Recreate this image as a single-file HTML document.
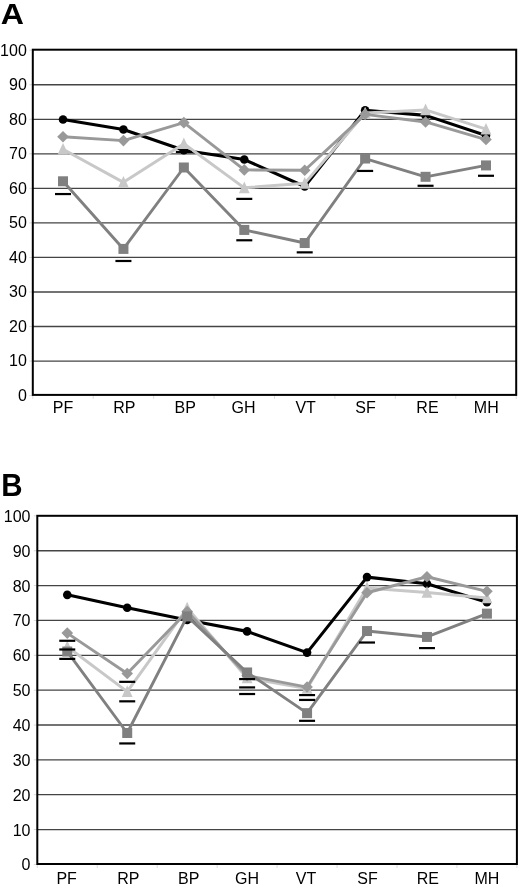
<!DOCTYPE html>
<html><head><meta charset="utf-8"><style>
html,body{margin:0;padding:0;background:#fff;}
body{width:520px;height:888px;overflow:hidden;}
svg{display:block;font-family:"Liberation Sans",sans-serif;filter:grayscale(1);}
</style></head><body>
<svg width="520" height="888" viewBox="0 0 520 888">
<rect width="520" height="888" fill="#fff"/>
<text transform="translate(0.8,23.9) scale(1.085,1)" font-size="29.6" font-weight="bold">A</text>
<line x1="32.8" x2="516.2" y1="361.06" y2="361.06" stroke="#444" stroke-width="1.3"/>
<line x1="32.8" x2="516.2" y1="326.52" y2="326.52" stroke="#444" stroke-width="1.3"/>
<line x1="32.8" x2="516.2" y1="291.98" y2="291.98" stroke="#444" stroke-width="1.3"/>
<line x1="32.8" x2="516.2" y1="257.44" y2="257.44" stroke="#444" stroke-width="1.3"/>
<line x1="32.8" x2="516.2" y1="222.90" y2="222.90" stroke="#444" stroke-width="1.3"/>
<line x1="32.8" x2="516.2" y1="188.36" y2="188.36" stroke="#444" stroke-width="1.3"/>
<line x1="32.8" x2="516.2" y1="153.82" y2="153.82" stroke="#444" stroke-width="1.3"/>
<line x1="32.8" x2="516.2" y1="119.28" y2="119.28" stroke="#444" stroke-width="1.3"/>
<line x1="32.8" x2="516.2" y1="84.74" y2="84.74" stroke="#444" stroke-width="1.3"/>
<text x="26.8" y="400.90" font-size="16" text-anchor="end">0</text>
<text x="26.8" y="366.36" font-size="16" text-anchor="end">10</text>
<text x="26.8" y="331.82" font-size="16" text-anchor="end">20</text>
<text x="26.8" y="297.28" font-size="16" text-anchor="end">30</text>
<text x="26.8" y="262.74" font-size="16" text-anchor="end">40</text>
<text x="26.8" y="228.20" font-size="16" text-anchor="end">50</text>
<text x="26.8" y="193.66" font-size="16" text-anchor="end">60</text>
<text x="26.8" y="159.12" font-size="16" text-anchor="end">70</text>
<text x="26.8" y="124.58" font-size="16" text-anchor="end">80</text>
<text x="26.8" y="90.04" font-size="16" text-anchor="end">90</text>
<text x="26.8" y="55.50" font-size="16" text-anchor="end">100</text>
<text x="63.01" y="413.10" font-size="16" text-anchor="middle">PF</text>
<text x="124.44" y="413.10" font-size="16" text-anchor="middle">RP</text>
<text x="185.16" y="413.10" font-size="16" text-anchor="middle">BP</text>
<text x="243.59" y="413.10" font-size="16" text-anchor="middle">GH</text>
<text x="305.61" y="413.10" font-size="16" text-anchor="middle">VT</text>
<text x="365.44" y="413.10" font-size="16" text-anchor="middle">SF</text>
<text x="427.46" y="413.10" font-size="16" text-anchor="middle">RE</text>
<text x="486.29" y="413.10" font-size="16" text-anchor="middle">MH</text>
<line x1="32.80" x2="32.80" y1="394.9" y2="398.9" stroke="#ddd" stroke-width="1"/>
<line x1="93.22" x2="93.22" y1="394.9" y2="398.9" stroke="#ddd" stroke-width="1"/>
<line x1="153.65" x2="153.65" y1="394.9" y2="398.9" stroke="#ddd" stroke-width="1"/>
<line x1="214.07" x2="214.07" y1="394.9" y2="398.9" stroke="#ddd" stroke-width="1"/>
<line x1="274.50" x2="274.50" y1="394.9" y2="398.9" stroke="#ddd" stroke-width="1"/>
<line x1="334.93" x2="334.93" y1="394.9" y2="398.9" stroke="#ddd" stroke-width="1"/>
<line x1="395.35" x2="395.35" y1="394.9" y2="398.9" stroke="#ddd" stroke-width="1"/>
<line x1="455.78" x2="455.78" y1="394.9" y2="398.9" stroke="#ddd" stroke-width="1"/>
<line x1="516.20" x2="516.20" y1="394.9" y2="398.9" stroke="#ddd" stroke-width="1"/>
<line x1="29.30" x2="32.80" y1="395.60" y2="395.60" stroke="#d8d8d8" stroke-width="1"/>
<line x1="29.30" x2="32.80" y1="361.06" y2="361.06" stroke="#d8d8d8" stroke-width="1"/>
<line x1="29.30" x2="32.80" y1="326.52" y2="326.52" stroke="#d8d8d8" stroke-width="1"/>
<line x1="29.30" x2="32.80" y1="291.98" y2="291.98" stroke="#d8d8d8" stroke-width="1"/>
<line x1="29.30" x2="32.80" y1="257.44" y2="257.44" stroke="#d8d8d8" stroke-width="1"/>
<line x1="29.30" x2="32.80" y1="222.90" y2="222.90" stroke="#d8d8d8" stroke-width="1"/>
<line x1="29.30" x2="32.80" y1="188.36" y2="188.36" stroke="#d8d8d8" stroke-width="1"/>
<line x1="29.30" x2="32.80" y1="153.82" y2="153.82" stroke="#d8d8d8" stroke-width="1"/>
<line x1="29.30" x2="32.80" y1="119.28" y2="119.28" stroke="#d8d8d8" stroke-width="1"/>
<line x1="29.30" x2="32.80" y1="84.74" y2="84.74" stroke="#d8d8d8" stroke-width="1"/>
<line x1="29.30" x2="32.80" y1="50.20" y2="50.20" stroke="#d8d8d8" stroke-width="1"/>
<rect x="32.8" y="49.7" width="483.40000000000003" height="345.2" fill="none" stroke="#000" stroke-width="2"/>
<polyline points="63.01,119.53 123.44,129.54 183.86,150.24 244.29,159.56 304.71,186.47 365.14,110.22 425.56,115.39 485.99,135.41" fill="none" stroke="#000" stroke-width="3.1" stroke-linejoin="round"/>
<circle cx="63.01" cy="119.53" r="4.3" fill="#000"/>
<circle cx="123.44" cy="129.54" r="4.3" fill="#000"/>
<circle cx="183.86" cy="150.24" r="4.3" fill="#000"/>
<circle cx="244.29" cy="159.56" r="4.3" fill="#000"/>
<circle cx="304.71" cy="186.47" r="4.3" fill="#000"/>
<circle cx="365.14" cy="110.22" r="4.3" fill="#000"/>
<circle cx="425.56" cy="115.39" r="4.3" fill="#000"/>
<circle cx="485.99" cy="135.41" r="4.3" fill="#000"/>
<polyline points="63.01,149.21 123.44,182.32 183.86,143.68 244.29,187.84 304.71,183.36 365.14,112.98 425.56,109.88 485.99,129.19" fill="none" stroke="#c8c8c8" stroke-width="3.0" stroke-linejoin="round"/>
<polygon points="63.01,142.91 68.41,154.51 57.61,154.51" fill="#c8c8c8"/>
<polygon points="123.44,176.02 128.84,187.62 118.04,187.62" fill="#c8c8c8"/>
<polygon points="183.86,137.38 189.26,148.98 178.46,148.98" fill="#c8c8c8"/>
<polygon points="244.29,181.54 249.69,193.15 238.89,193.15" fill="#c8c8c8"/>
<polygon points="304.71,177.06 310.11,188.66 299.31,188.66" fill="#c8c8c8"/>
<polygon points="365.14,106.68 370.54,118.28 359.74,118.28" fill="#c8c8c8"/>
<polygon points="425.56,103.58 430.96,115.17 420.16,115.17" fill="#c8c8c8"/>
<polygon points="485.99,122.89 491.39,134.50 480.59,134.50" fill="#c8c8c8"/>
<polyline points="63.01,136.78 123.44,140.58 183.86,122.64 244.29,169.91 304.71,170.25 365.14,114.36 425.56,121.95 485.99,139.54" fill="none" stroke="#999999" stroke-width="2.9" stroke-linejoin="round"/>
<polygon points="63.01,130.98 68.81,136.78 63.01,142.58 57.21,136.78" fill="#999999"/>
<polygon points="123.44,134.78 129.24,140.58 123.44,146.38 117.64,140.58" fill="#999999"/>
<polygon points="183.86,116.84 189.66,122.64 183.86,128.44 178.06,122.64" fill="#999999"/>
<polygon points="244.29,164.10 250.09,169.91 244.29,175.71 238.49,169.91" fill="#999999"/>
<polygon points="304.71,164.45 310.51,170.25 304.71,176.05 298.91,170.25" fill="#999999"/>
<polygon points="365.14,108.56 370.94,114.36 365.14,120.16 359.34,114.36" fill="#999999"/>
<polygon points="425.56,116.15 431.36,121.95 425.56,127.75 419.76,121.95" fill="#999999"/>
<polygon points="485.99,133.74 491.79,139.54 485.99,145.34 480.19,139.54" fill="#999999"/>
<polyline points="63.01,181.29 123.44,248.91 183.86,167.49 244.29,229.93 304.71,243.04 365.14,158.52 425.56,176.80 485.99,165.42" fill="none" stroke="#808080" stroke-width="2.9" stroke-linejoin="round"/>
<rect x="58.01" y="176.29" width="10.00" height="10.00" fill="#808080"/>
<rect x="118.44" y="243.91" width="10.00" height="10.00" fill="#808080"/>
<rect x="178.86" y="162.49" width="10.00" height="10.00" fill="#808080"/>
<rect x="239.29" y="224.93" width="10.00" height="10.00" fill="#808080"/>
<rect x="299.71" y="238.04" width="10.00" height="10.00" fill="#808080"/>
<rect x="360.14" y="153.52" width="10.00" height="10.00" fill="#808080"/>
<rect x="420.56" y="171.80" width="10.00" height="10.00" fill="#808080"/>
<rect x="480.99" y="160.42" width="10.00" height="10.00" fill="#808080"/>
<line x1="55.01" x2="71.01" y1="194.05" y2="194.05" stroke="#000" stroke-width="2.2"/>
<line x1="115.44" x2="131.44" y1="260.99" y2="260.99" stroke="#000" stroke-width="2.2"/>
<line x1="175.86" x2="191.86" y1="151.97" y2="151.97" stroke="#000" stroke-width="2.2"/>
<line x1="236.29" x2="252.29" y1="198.88" y2="198.88" stroke="#000" stroke-width="2.2"/>
<line x1="236.29" x2="252.29" y1="240.28" y2="240.28" stroke="#000" stroke-width="2.2"/>
<line x1="296.71" x2="312.71" y1="252.36" y2="252.36" stroke="#000" stroke-width="2.2"/>
<line x1="357.14" x2="373.14" y1="170.94" y2="170.94" stroke="#000" stroke-width="2.2"/>
<line x1="417.56" x2="433.56" y1="185.77" y2="185.77" stroke="#000" stroke-width="2.2"/>
<line x1="477.99" x2="493.99" y1="175.77" y2="175.77" stroke="#000" stroke-width="2.2"/>
<text transform="translate(1.2,496.0) scale(0.97,1)" font-size="30.45" font-weight="bold">B</text>
<line x1="37.3" x2="516.9" y1="829.55" y2="829.55" stroke="#444" stroke-width="1.3"/>
<line x1="37.3" x2="516.9" y1="794.70" y2="794.70" stroke="#444" stroke-width="1.3"/>
<line x1="37.3" x2="516.9" y1="759.85" y2="759.85" stroke="#444" stroke-width="1.3"/>
<line x1="37.3" x2="516.9" y1="725.00" y2="725.00" stroke="#444" stroke-width="1.3"/>
<line x1="37.3" x2="516.9" y1="690.15" y2="690.15" stroke="#444" stroke-width="1.3"/>
<line x1="37.3" x2="516.9" y1="655.30" y2="655.30" stroke="#444" stroke-width="1.3"/>
<line x1="37.3" x2="516.9" y1="620.45" y2="620.45" stroke="#444" stroke-width="1.3"/>
<line x1="37.3" x2="516.9" y1="585.60" y2="585.60" stroke="#444" stroke-width="1.3"/>
<line x1="37.3" x2="516.9" y1="550.75" y2="550.75" stroke="#444" stroke-width="1.3"/>
<text x="30.5" y="870.40" font-size="16" text-anchor="end">0</text>
<text x="30.5" y="835.55" font-size="16" text-anchor="end">10</text>
<text x="30.5" y="800.70" font-size="16" text-anchor="end">20</text>
<text x="30.5" y="765.85" font-size="16" text-anchor="end">30</text>
<text x="30.5" y="731.00" font-size="16" text-anchor="end">40</text>
<text x="30.5" y="696.15" font-size="16" text-anchor="end">50</text>
<text x="30.5" y="661.30" font-size="16" text-anchor="end">60</text>
<text x="30.5" y="626.45" font-size="16" text-anchor="end">70</text>
<text x="30.5" y="591.60" font-size="16" text-anchor="end">80</text>
<text x="30.5" y="556.75" font-size="16" text-anchor="end">90</text>
<text x="30.5" y="521.90" font-size="16" text-anchor="end">100</text>
<text x="66.67" y="883.80" font-size="16" text-anchor="middle">PF</text>
<text x="128.32" y="883.80" font-size="16" text-anchor="middle">RP</text>
<text x="188.78" y="883.80" font-size="16" text-anchor="middle">BP</text>
<text x="247.12" y="883.80" font-size="16" text-anchor="middle">GH</text>
<text x="306.07" y="883.80" font-size="16" text-anchor="middle">VT</text>
<text x="367.52" y="883.80" font-size="16" text-anchor="middle">SF</text>
<text x="427.87" y="883.80" font-size="16" text-anchor="middle">RE</text>
<text x="486.92" y="883.80" font-size="16" text-anchor="middle">MH</text>
<line x1="37.30" x2="37.30" y1="864.0" y2="868.0" stroke="#ddd" stroke-width="1"/>
<line x1="97.25" x2="97.25" y1="864.0" y2="868.0" stroke="#ddd" stroke-width="1"/>
<line x1="157.20" x2="157.20" y1="864.0" y2="868.0" stroke="#ddd" stroke-width="1"/>
<line x1="217.15" x2="217.15" y1="864.0" y2="868.0" stroke="#ddd" stroke-width="1"/>
<line x1="277.10" x2="277.10" y1="864.0" y2="868.0" stroke="#ddd" stroke-width="1"/>
<line x1="337.05" x2="337.05" y1="864.0" y2="868.0" stroke="#ddd" stroke-width="1"/>
<line x1="397.00" x2="397.00" y1="864.0" y2="868.0" stroke="#ddd" stroke-width="1"/>
<line x1="456.95" x2="456.95" y1="864.0" y2="868.0" stroke="#ddd" stroke-width="1"/>
<line x1="516.90" x2="516.90" y1="864.0" y2="868.0" stroke="#ddd" stroke-width="1"/>
<line x1="33.80" x2="37.30" y1="864.40" y2="864.40" stroke="#d8d8d8" stroke-width="1"/>
<line x1="33.80" x2="37.30" y1="829.55" y2="829.55" stroke="#d8d8d8" stroke-width="1"/>
<line x1="33.80" x2="37.30" y1="794.70" y2="794.70" stroke="#d8d8d8" stroke-width="1"/>
<line x1="33.80" x2="37.30" y1="759.85" y2="759.85" stroke="#d8d8d8" stroke-width="1"/>
<line x1="33.80" x2="37.30" y1="725.00" y2="725.00" stroke="#d8d8d8" stroke-width="1"/>
<line x1="33.80" x2="37.30" y1="690.15" y2="690.15" stroke="#d8d8d8" stroke-width="1"/>
<line x1="33.80" x2="37.30" y1="655.30" y2="655.30" stroke="#d8d8d8" stroke-width="1"/>
<line x1="33.80" x2="37.30" y1="620.45" y2="620.45" stroke="#d8d8d8" stroke-width="1"/>
<line x1="33.80" x2="37.30" y1="585.60" y2="585.60" stroke="#d8d8d8" stroke-width="1"/>
<line x1="33.80" x2="37.30" y1="550.75" y2="550.75" stroke="#d8d8d8" stroke-width="1"/>
<line x1="33.80" x2="37.30" y1="515.90" y2="515.90" stroke="#d8d8d8" stroke-width="1"/>
<rect x="37.3" y="515.8" width="479.59999999999997" height="348.20000000000005" fill="none" stroke="#000" stroke-width="2"/>
<polyline points="67.27,594.84 127.22,607.72 187.18,619.90 247.12,631.38 307.07,652.61 367.02,577.10 426.97,583.71 486.92,602.15" fill="none" stroke="#000" stroke-width="3.1" stroke-linejoin="round"/>
<circle cx="67.27" cy="594.84" r="4.3" fill="#000"/>
<circle cx="127.22" cy="607.72" r="4.3" fill="#000"/>
<circle cx="187.18" cy="619.90" r="4.3" fill="#000"/>
<circle cx="247.12" cy="631.38" r="4.3" fill="#000"/>
<circle cx="307.07" cy="652.61" r="4.3" fill="#000"/>
<circle cx="367.02" cy="577.10" r="4.3" fill="#000"/>
<circle cx="426.97" cy="583.71" r="4.3" fill="#000"/>
<circle cx="486.92" cy="602.15" r="4.3" fill="#000"/>
<polyline points="67.27,646.70 127.22,691.59 187.18,608.07 247.12,678.02 307.07,688.46 367.02,587.88 426.97,592.41 486.92,597.98" fill="none" stroke="#c8c8c8" stroke-width="3.0" stroke-linejoin="round"/>
<polygon points="67.27,640.40 72.67,652.00 61.87,652.00" fill="#c8c8c8"/>
<polygon points="127.22,685.29 132.62,696.89 121.82,696.89" fill="#c8c8c8"/>
<polygon points="187.18,601.77 192.58,613.37 181.78,613.37" fill="#c8c8c8"/>
<polygon points="247.12,671.72 252.53,683.32 241.72,683.32" fill="#c8c8c8"/>
<polygon points="307.07,682.16 312.47,693.76 301.68,693.76" fill="#c8c8c8"/>
<polygon points="367.02,581.58 372.42,593.18 361.62,593.18" fill="#c8c8c8"/>
<polygon points="426.97,586.11 432.37,597.71 421.57,597.71" fill="#c8c8c8"/>
<polygon points="486.92,591.68 492.32,603.28 481.52,603.28" fill="#c8c8c8"/>
<polyline points="67.27,633.12 127.22,673.49 187.18,611.55 247.12,675.58 307.07,687.06 367.02,592.76 426.97,576.75 486.92,591.36" fill="none" stroke="#999999" stroke-width="2.9" stroke-linejoin="round"/>
<polygon points="67.27,627.32 73.07,633.12 67.27,638.92 61.47,633.12" fill="#999999"/>
<polygon points="127.22,667.69 133.03,673.49 127.22,679.29 121.42,673.49" fill="#999999"/>
<polygon points="187.18,605.75 192.98,611.55 187.18,617.35 181.38,611.55" fill="#999999"/>
<polygon points="247.12,669.78 252.93,675.58 247.12,681.38 241.32,675.58" fill="#999999"/>
<polygon points="307.07,681.26 312.88,687.06 307.07,692.86 301.27,687.06" fill="#999999"/>
<polygon points="367.02,586.96 372.82,592.76 367.02,598.56 361.22,592.76" fill="#999999"/>
<polygon points="426.97,570.95 432.77,576.75 426.97,582.55 421.17,576.75" fill="#999999"/>
<polygon points="486.92,585.56 492.72,591.36 486.92,597.16 481.12,591.36" fill="#999999"/>
<polyline points="67.27,651.57 127.22,733.00 187.18,616.42 247.12,672.45 307.07,713.16 367.02,631.04 426.97,636.95 486.92,613.64" fill="none" stroke="#808080" stroke-width="2.9" stroke-linejoin="round"/>
<rect x="62.27" y="646.57" width="10.00" height="10.00" fill="#808080"/>
<rect x="122.22" y="728.00" width="10.00" height="10.00" fill="#808080"/>
<rect x="182.18" y="611.42" width="10.00" height="10.00" fill="#808080"/>
<rect x="242.12" y="667.45" width="10.00" height="10.00" fill="#808080"/>
<rect x="302.07" y="708.16" width="10.00" height="10.00" fill="#808080"/>
<rect x="362.02" y="626.04" width="10.00" height="10.00" fill="#808080"/>
<rect x="421.97" y="631.95" width="10.00" height="10.00" fill="#808080"/>
<rect x="481.92" y="608.64" width="10.00" height="10.00" fill="#808080"/>
<line x1="59.27" x2="75.27" y1="640.78" y2="640.78" stroke="#000" stroke-width="2.2"/>
<line x1="59.27" x2="75.27" y1="649.48" y2="649.48" stroke="#000" stroke-width="2.2"/>
<line x1="59.27" x2="75.27" y1="658.88" y2="658.88" stroke="#000" stroke-width="2.2"/>
<line x1="119.22" x2="135.22" y1="681.84" y2="681.84" stroke="#000" stroke-width="2.2"/>
<line x1="119.22" x2="135.22" y1="701.33" y2="701.33" stroke="#000" stroke-width="2.2"/>
<line x1="119.22" x2="135.22" y1="743.44" y2="743.44" stroke="#000" stroke-width="2.2"/>
<line x1="239.12" x2="255.12" y1="679.06" y2="679.06" stroke="#000" stroke-width="2.2"/>
<line x1="239.12" x2="255.12" y1="687.41" y2="687.41" stroke="#000" stroke-width="2.2"/>
<line x1="239.12" x2="255.12" y1="694.02" y2="694.02" stroke="#000" stroke-width="2.2"/>
<line x1="299.07" x2="315.07" y1="695.07" y2="695.07" stroke="#000" stroke-width="2.2"/>
<line x1="299.07" x2="315.07" y1="699.94" y2="699.94" stroke="#000" stroke-width="2.2"/>
<line x1="299.07" x2="315.07" y1="720.82" y2="720.82" stroke="#000" stroke-width="2.2"/>
<line x1="359.02" x2="375.02" y1="642.52" y2="642.52" stroke="#000" stroke-width="2.2"/>
<line x1="418.97" x2="434.97" y1="648.09" y2="648.09" stroke="#000" stroke-width="2.2"/>
</svg>
</body></html>
